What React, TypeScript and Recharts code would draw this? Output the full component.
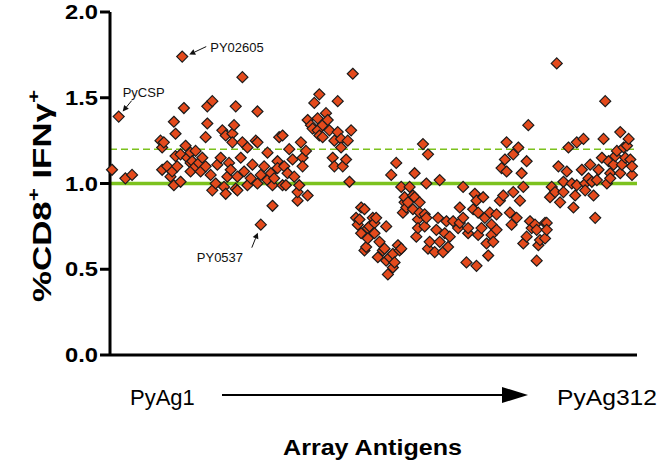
import React from 'react';
import { ScatterChart, Scatter, XAxis, YAxis, ReferenceLine, ReferenceDot } from 'recharts';

// [antigen number, %CD8+ IFNγ+ relative to control]
const antigenResponses: [number, number][] = [
    [1, 1.08], [5, 1.39], [9, 1.03], [13, 1.05],
    [30, 1.25], [31, 1.21], [31, 1.08], [32, 1.24], [34, 1.10], [36, 1.04], [37, 1.07], [38, 0.99], [38, 1.36], [39, 1.16],
    [39, 1.29], [40, 1.10], [42, 1.17], [42, 1.01], [43, 1.74], [44, 1.44], [45, 1.22], [46, 1.15], [48, 1.12], [48, 1.07],
    [48, 1.18], [49, 1.13], [51, 1.19], [51, 1.10], [53, 1.12], [54, 1.07], [55, 1.15],
    [57, 1.10], [57, 1.27], [58, 1.35], [58, 1.45], [60, 1.05], [61, 1.48], [61, 0.96], [63, 1.00], [64, 1.11], [66, 1.15],
    [67, 1.31], [68, 0.98], [69, 1.28], [69, 0.94], [70, 1.04], [71, 1.12], [72, 1.08], [73, 1.29], [73, 1.24], [74, 1.34],
    [75, 1.45], [75, 0.97], [76, 1.04], [76, 0.96], [78, 1.15], [79, 1.62], [79, 1.24], [80, 1.07], [82, 1.21], [82, 0.99],
    [84, 1.03], [85, 1.11], [87, 1.25], [88, 1.42], [88, 1.00], [88, 1.24], [90, 1.05], [90, 0.76], [92, 1.10], [94, 1.02],
    [94, 1.18], [96, 1.06], [97, 0.99], [97, 0.87], [98, 1.03], [100, 1.13], [100, 1.09], [101, 1.27],
    [103, 0.99], [103, 1.28], [104, 1.10], [105, 0.99], [106, 1.06], [107, 1.20], [109, 1.14], [110, 1.04], [112, 0.90],
    [112, 0.95], [113, 0.99], [114, 1.24], [115, 1.15], [115, 1.10], [117, 1.19], [118, 1.37], [118, 0.93], [120, 1.34],
    [121, 1.32], [122, 1.47], [124, 1.38], [124, 1.31], [125, 1.52], [125, 1.28], [127, 1.34], [127, 1.27], [129, 1.41],
    [130, 1.37], [131, 1.31], [133, 1.15], [134, 1.10], [134, 1.25], [136, 1.30], [136, 1.48], [138, 1.26], [138, 1.21],
    [139, 1.10], [141, 1.14], [142, 1.25], [143, 1.01], [144, 1.31], [145, 1.64],
    [147, 0.80], [148, 0.76], [149, 0.79], [150, 0.86], [150, 0.71], [152, 0.61], [152, 0.85], [153, 0.63], [154, 0.74],
    [154, 0.68], [155, 0.75], [157, 0.80], [158, 0.77], [158, 0.71], [159, 0.80], [160, 0.57], [161, 0.66], [163, 0.61],
    [164, 0.62], [165, 0.75], [165, 0.55], [166, 0.47], [167, 0.57], [168, 1.05], [169, 0.51], [169, 0.59], [170, 0.54],
    [171, 1.12], [172, 0.64], [173, 0.61], [174, 0.98], [174, 0.62], [175, 0.83], [176, 0.89], [176, 0.92], [177, 0.86],
    [178, 0.89], [179, 0.98], [181, 0.93], [181, 0.85], [182, 1.06], [182, 0.92], [183, 0.69], [184, 0.79], [184, 0.74],
    [185, 0.89], [185, 0.83], [187, 1.23], [188, 0.82], [188, 0.75], [189, 0.80], [189, 1.00], [190, 1.17], [190, 0.62],
    [191, 0.66], [194, 0.60], [195, 0.73], [196, 0.80], [197, 1.02], [197, 0.66], [199, 0.60], [200, 0.71], [201, 0.78],
    [202, 0.63],
    [203, 0.69], [205, 0.78], [208, 0.74], [209, 0.86], [209, 0.77], [211, 0.98], [211, 0.80], [213, 0.54], [214, 0.71],
    [214, 0.74], [217, 0.85], [218, 0.94], [219, 0.90], [219, 0.52], [220, 0.70], [220, 0.83], [222, 0.74], [223, 0.92],
    [224, 0.80], [225, 0.65], [226, 0.58], [227, 0.83], [228, 0.76], [228, 0.70], [229, 0.66], [231, 0.82], [231, 0.73],
    [233, 0.90], [234, 1.09], [235, 0.93], [236, 1.14], [237, 1.24], [237, 1.07], [239, 0.83], [240, 0.76], [241, 1.17],
    [241, 0.95], [243, 0.80], [244, 1.21], [245, 0.90], [246, 1.06], [247, 0.98], [247, 0.65], [249, 1.13], [249, 0.69],
    [250, 1.34], [251, 0.78], [252, 0.74], [254, 0.76], [255, 0.73], [255, 0.55], [256, 0.64], [257, 0.67], [260, 0.77],
    [260, 0.68], [261, 0.77], [261, 0.73],
    [263, 0.92], [264, 0.98], [266, 0.95], [267, 1.70], [268, 1.10], [269, 0.89], [271, 1.01], [271, 0.95], [273, 1.07],
    [274, 1.21], [276, 1.00], [277, 0.86], [278, 0.93], [279, 0.99], [279, 1.24], [282, 1.08], [283, 1.26], [284, 1.00],
    [284, 0.96], [286, 1.03], [287, 1.11], [288, 1.01], [289, 0.93], [290, 0.80], [291, 1.02], [292, 1.08], [294, 1.15],
    [295, 1.26], [296, 1.48], [297, 1.00], [298, 1.13], [299, 1.06], [299, 1.03], [301, 1.11], [302, 1.16], [303, 1.19],
    [305, 1.30], [305, 1.06], [306, 1.11], [307, 1.21], [308, 1.15], [309, 1.22], [310, 1.26], [311, 1.14], [312, 1.05],
    [312, 1.10],
];

const yTicks = [0, 0.5, 1.0, 1.5, 2.0];
const baseline = 1.0;
const cutoff = 1.2;

// named antigens: [label, antigen number, value]
const callouts: [string, number, number][] = [
    ['PyCSP', 5, 1.39],
    ['PY02605', 43, 1.74],
    ['PY0537', 90, 0.76],
];

const FONT = '"Liberation Sans", Arial, sans-serif';
const GREEN = '#7cc21e';

const chartData = antigenResponses.map(([antigen, value]) => ({ antigen, value }));

const Diamond = (props: any) => {
    const { cx, cy } = props;
    if (cx == null || cy == null) return null;
    const r = 5.5;
    return (
        <path
            d={`M${cx},${cy - r}L${cx + r},${cy}L${cx},${cy + r}L${cx - r},${cy}Z`}
            fill="#e44a1c"
            stroke="#1b1b1b"
            strokeWidth={1.2}
        />
    );
};

const YTick = (props: any) => {
    const { x, y, payload } = props;
    return (
        <text
            x={x}
            y={y}
            dy={7}
            textAnchor="end"
            fontFamily={FONT}
            fontWeight="bold"
            fontSize={20}
            fill="#000"
            textLength={33}
            lengthAdjust="spacingAndGlyphs"
        >
            {Number(payload.value).toFixed(1)}
        </text>
    );
};

// text + arrow offsets relative to the marked point
const calloutStyle: Record<string, { tx: number; ty: number; ax: number; ay: number; hx: number; hy: number }> = {
    PyCSP: { tx: 4, ty: -20, ax: 13, ay: -16, hx: 4, hy: -5 },
    PY02605: { tx: 28, ty: -5, ax: 24, ay: -10, hx: 7, hy: -2 },
    PY0537: { tx: -64, ty: 37, ax: -9, ay: 23, hx: -3, hy: 8 },
};

const Callout = ({ cx, cy, label }: any) => {
    if (cx == null || cy == null) return null;
    const s = calloutStyle[label];
    const x1 = cx + s.ax, y1 = cy + s.ay, x2 = cx + s.hx, y2 = cy + s.hy;
    const len = Math.hypot(x2 - x1, y2 - y1);
    const ux = (x2 - x1) / len, uy = (y2 - y1) / len;
    const hl = 6, hw = 3;
    const bx = x2 - ux * hl, by = y2 - uy * hl;
    return (
        <g>
            <text x={cx + s.tx} y={cy + s.ty} fontFamily={FONT} fontSize={13} fill="#111">{label}</text>
            <line x1={x1} y1={y1} x2={bx} y2={by} stroke="#111" strokeWidth={1} />
            <polygon
                points={`${x2},${y2} ${bx - uy * hw},${by + ux * hw} ${bx + uy * hw},${by - ux * hw}`}
                fill="#111"
            />
        </g>
    );
};

export default function App() {
    return (
        <div style={{ position: 'absolute', left: 0, top: 0, width: 660, height: 465, background: '#fff' }}>
            <ScatterChart width={660} height={465} margin={{ top: 12, right: 23, bottom: 80, left: 0 }}>
                <XAxis
                    dataKey="antigen"
                    type="number"
                    domain={[-0.2, 315]}
                    tick={false}
                    tickLine={false}
                    height={30}
                    axisLine={{ stroke: '#000', strokeWidth: 3 }}
                />
                <YAxis
                    dataKey="value"
                    type="number"
                    domain={[0, 2]}
                    ticks={yTicks}
                    width={110}
                    tickSize={10}
                    tick={<YTick />}
                    tickLine={{ stroke: '#000', strokeWidth: 3 }}
                    axisLine={{ stroke: '#000', strokeWidth: 3 }}
                />
                <ReferenceLine y={cutoff} stroke={GREEN} strokeWidth={1.5} strokeDasharray="7 4" />
                <ReferenceLine y={baseline} stroke={GREEN} strokeWidth={3.5} />
                <Scatter data={chartData} shape={<Diamond />} isAnimationActive={false} />
                {callouts.map(([label, antigen, value]) => (
                    <ReferenceDot
                        key={label}
                        x={antigen}
                        y={value}
                        r={0}
                        shape={(p: any) => <Callout {...p} label={label} />}
                    />
                ))}
            </ScatterChart>
            <svg width={660} height={465} style={{ position: 'absolute', left: 0, top: 0, pointerEvents: 'none' }}>
                <text
                    transform="translate(51,196) rotate(-90)"
                    textAnchor="middle"
                    fontFamily={FONT}
                    fontWeight="bold"
                    fontSize={25}
                    fill="#000"
                    textLength={212}
                    lengthAdjust="spacingAndGlyphs"
                >
                    %CD8<tspan dy={-12} fontSize={16}>+</tspan>
                    <tspan dy={12}> IFNγ</tspan>
                    <tspan dy={-12} fontSize={16}>+</tspan>
                </text>
                <text x={130} y={405} fontFamily={FONT} fontSize={22} fill="#000">PyAg1</text>
                <line x1={222} y1={395} x2={505} y2={395} stroke="#000" strokeWidth={2} />
                <polygon points="502,387 528,395 502,403" fill="#000" />
                <text x={557} y={405} fontFamily={FONT} fontSize={22} fill="#000" textLength={100} lengthAdjust="spacingAndGlyphs">
                    PyAg312
                </text>
                <text x={283} y={455} fontFamily={FONT} fontWeight="bold" fontSize={22} fill="#000" textLength={179} lengthAdjust="spacingAndGlyphs">
                    Array Antigens
                </text>
            </svg>
        </div>
    );
}
